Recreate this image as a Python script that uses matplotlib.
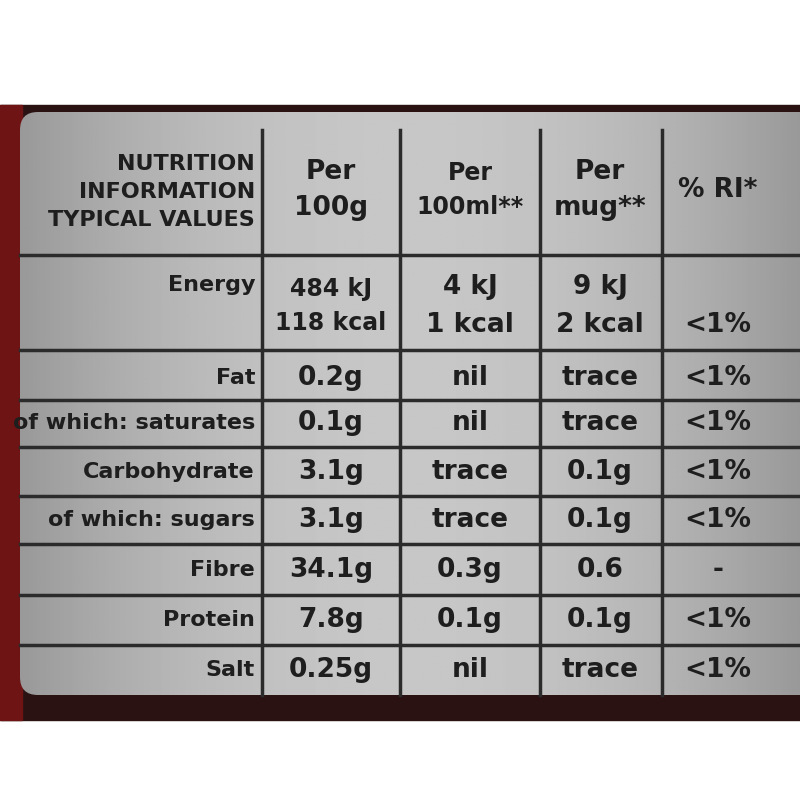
import matplotlib
matplotlib.use("Agg")
import matplotlib.pyplot as plt
import numpy as np
from matplotlib.patches import FancyBboxPatch

header = ["NUTRITION\nINFORMATION\nTYPICAL VALUES", "Per\n100g", "Per\n100ml**", "Per\nmug**", "% RI*"]
nutrients = ["Fat", "of which: saturates", "Carbohydrate", "of which: sugars", "Fibre", "Protein", "Salt"]
per100g = ["0.2g", "0.1g", "3.1g", "3.1g", "34.1g", "7.8g", "0.25g"]
per100ml = ["nil", "nil", "trace", "trace", "0.3g", "0.1g", "nil"]
permug = ["trace", "trace", "0.1g", "0.1g", "0.6", "0.1g", "trace"]
ri = ["<1%", "<1%", "<1%", "<1%", "-", "<1%", "<1%"]
energy = ["Energy", "484 kJ\n118 kcal", "4 kJ\n1 kcal", "9 kJ\n2 kcal", "\n<1%"]

fig = plt.figure(figsize=(8, 8), dpi=100)
ax = fig.add_axes([0, 0, 1, 1])
ax.set_xlim(0, 800); ax.set_ylim(800, 0); ax.axis("off")
ax.add_patch(plt.Rectangle((0, 105), 800, 615, color="#2a1212", zorder=0))
ax.add_patch(plt.Rectangle((0, 105), 22, 615, color="#6e1414", zorder=0.5))
x = np.linspace(-1, 1, 400)
grad = 0.78 - 0.18 * x**2
img = np.tile(grad, (100, 1))
im = ax.imshow(img, cmap="gray", vmin=0, vmax=1, extent=(20, 800, 695, 112), aspect="auto", zorder=1)
clip = FancyBboxPatch((20, 112), 800, 583, boxstyle="round,pad=0,rounding_size=18", transform=ax.transData)
im.set_clip_path(clip)

lc = "#2b2b2b"
for xv in [262, 400, 540, 662]:
    ax.plot([xv, xv], [130, 695], color=lc, lw=2.5, zorder=2)
for yv in [255, 350, 400, 447, 496, 544, 595, 645]:
    ax.plot([20, 800], [yv, yv], color=lc, lw=2.5, zorder=2)

fp = dict(family="DejaVu Sans", fontweight="bold", fontsize=19, color="#1e1e1e", zorder=3)
fl = dict(fp, fontsize=16)
cx = [331, 470, 600, 718]
ax.text(255, 192, header[0], ha="right", va="center", linespacing=1.5, **fl)
for i in range(1, 4):
    ax.text(cx[i-1], 190, header[i], ha="center", va="center", linespacing=1.5, **(fp if i != 2 else dict(fp, fontsize=17)))
ax.text(cx[3], 190, header[4], ha="center", va="center", **fp)
ax.text(255, 285, energy[0], ha="right", va="center", **fl)
for i in range(1, 5):
    ax.text(cx[i-1], 306, energy[i], ha="center", va="center", linespacing=1.55, **(fp if i != 1 else dict(fp, fontsize=17)))
ys = [378, 423, 472, 520, 570, 620, 670]
for j, y in enumerate(ys):
    ax.text(255, y, nutrients[j], ha="right", va="center", **fl)
    for k, col in enumerate([per100g, per100ml, permug, ri]):
        ax.text(cx[k], y, col[j], ha="center", va="center", **fp)
fig.savefig("out.png", dpi=100)
